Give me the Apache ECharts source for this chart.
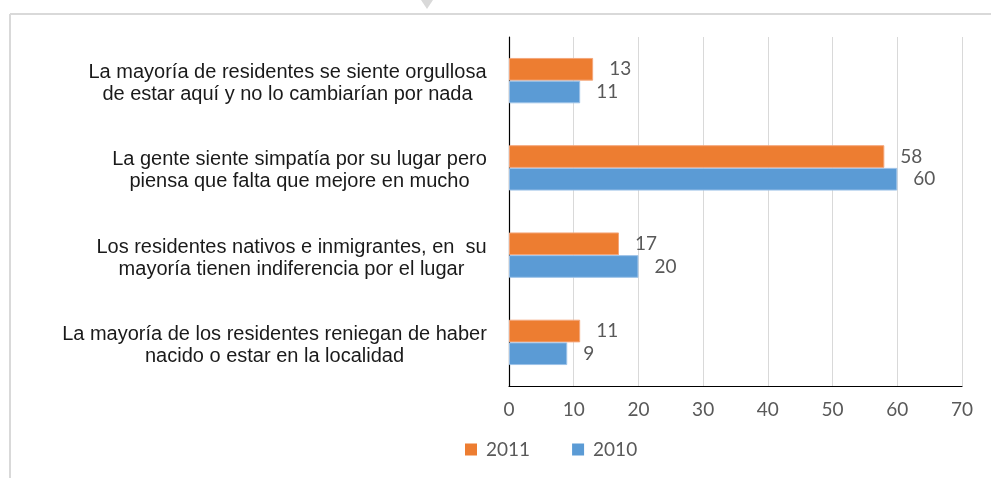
<!DOCTYPE html>
<html lang="es">
<head>
    <meta charset="UTF-8">
    <title>Sentimiento de pertenencia</title>
    <script src="https://cdn.jsdelivr.net/npm/echarts@6/dist/echarts.min.js"></script>
    <style>
        html, body { margin: 0; padding: 0; background: #fff; }
        #chart { width: 991px; height: 478px; }
    </style>
</head>
<body>
    <div id="chart"></div>
    <script>
        // categorias (de arriba a abajo)
        const categories = [
            'La mayoría de residentes se siente orgullosa\nde estar aquí y no lo cambiarían por nada',
            'La gente siente simpatía por su lugar pero\npiensa que falta que mejore en mucho',
            'Los residentes nativos e inmigrantes, en  su\nmayoría tienen indiferencia por el lugar',
            'La mayoría de los residentes reniegan de haber\nnacido o estar en la localidad'
        ];
        const years = ['2011', '2010'];
        const values2011 = [13, 58, 17, 11];
        const values2010 = [11, 60, 20, 9];
        const xTicks = [0, 10, 20, 30, 40, 50, 60, 70];

        const catSize = 20;
        const catFont = catSize + 'px "Liberation Sans"';
        const numFont = 'Lato';
        const numSize = 19;

        // ancho de la linea mas larga, para centrar las dos lineas entre si
        const ctx = document.createElement('canvas').getContext('2d');
        ctx.font = catFont;
        const rich = {};
        categories.forEach((c, i) => {
            let w = 0;
            c.split('\n').forEach(l => { w = Math.max(w, ctx.measureText(l).width); });
            rich['c' + i] = {
                width: Math.ceil(w),
                align: 'center',
                fontSize: catSize,
                fontFamily: 'Liberation Sans',
                color: '#1a1a1a',
                lineHeight: 22
            };
        });

        const chart = echarts.init(document.getElementById('chart'));

        const option = {
            backgroundColor: '#fff',
            animation: false,
            color: ['#ED7D31', '#5B9BD5'],
            graphic: [
                { type: 'line', shape: { x1: 10, y1: 14, x2: 991, y2: 14 }, style: { stroke: '#d9d9d9', lineWidth: 2 } },
                { type: 'line', shape: { x1: 10, y1: 14, x2: 10, y2: 478 }, style: { stroke: '#d9d9d9', lineWidth: 2 } },
                { type: 'polygon', shape: { points: [[421, 0], [433, 0], [427, 9]] }, style: { fill: '#d9d9d9' } }
            ],
            grid: {
                left: 509,
                right: 29,
                top: 37,
                bottom: 92
            },
            legend: {
                data: years,
                left: 460,
                top: 435,
                icon: 'rect',
                itemWidth: 12,
                itemHeight: 12,
                itemGap: 42,
                itemStyle: { borderWidth: 0 },
                textStyle: { fontFamily: numFont, fontSize: numSize, color: '#595959', padding: [0, 0, 0, 4] }
            },
            xAxis: {
                type: 'value',
                min: xTicks[0],
                max: xTicks[xTicks.length - 1],
                interval: 10,
                axisLine: { show: true, lineStyle: { color: '#000', width: 1.2 } },
                axisTick: { show: false },
                axisLabel: { margin: 14, fontFamily: numFont, fontSize: numSize, color: '#595959' },
                splitLine: { show: true, lineStyle: { color: '#d9d9d9', width: 1 } }
            },
            yAxis: {
                type: 'category',
                data: categories,
                inverse: true,
                axisLine: { show: true, lineStyle: { color: '#000', width: 1.2 } },
                axisTick: { show: false },
                axisLabel: {
                    margin: 22,
                    padding: [6, 0, 0, 0],
                    formatter: (v, i) => '{c' + i + '|' + v.split('\n').join('}\n{c' + i + '|') + '}',
                    rich: rich
                }
            },
            series: [
                {
                    name: years[0],
                    type: 'bar',
                    data: values2011,
                    barGap: '0%',
                    barCategoryGap: '48%',
                    itemStyle: { borderColor: '#f4a67a', borderWidth: 1 },
                    label: { show: true, position: 'right', distance: 16, fontFamily: numFont, fontSize: numSize, color: '#595959' }
                },
                {
                    name: years[1],
                    type: 'bar',
                    data: values2010,
                    barGap: '0%',
                    barCategoryGap: '48%',
                    itemStyle: { borderColor: '#9cc2e8', borderWidth: 1 },
                    label: { show: true, position: 'right', distance: 16, fontFamily: numFont, fontSize: numSize, color: '#595959' }
                }
            ]
        };

        chart.setOption(option);
    </script>
</body>
</html>
